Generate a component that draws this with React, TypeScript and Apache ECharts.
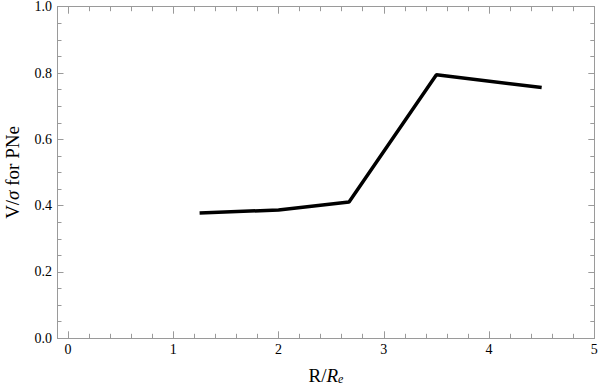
import React, { useEffect, useRef } from "react";
import * as echarts from "echarts";

const xValues = [1.25, 2.0, 2.67, 3.5, 4.5];
const yValues = [0.378, 0.387, 0.411, 0.795, 0.756];
const xMajorTicks = [0, 1, 2, 3, 4, 5];
const xMinorTicks = [0.2, 0.4, 0.6, 0.8, 1.2, 1.4, 1.6, 1.8, 2.2, 2.4, 2.6, 2.8, 3.2, 3.4, 3.6, 3.8, 4.2, 4.4, 4.6, 4.8];
const yMajorTicks = [0, 0.2, 0.4, 0.6, 0.8, 1.0];
const xMin = -0.1;
const xMax = 5;
const yMin = 0;
const yMax = 1;
const yStep = 0.2;

const FONT = "Liberation Serif";
const FRAME = "#9a9a9a";

export default function App() {
  const ref = useRef<HTMLDivElement>(null);
  useEffect(() => {
    if (!ref.current) return;
    const chart = echarts.init(ref.current, undefined, { renderer: "svg" });
    const baseX = (position: "bottom" | "top", ticks: number[], len: number, name?: boolean) => ({
      type: "value",
      position,
      min: xMin,
      max: xMax,
      axisLine: { show: true, onZero: false, lineStyle: { color: FRAME, width: 1 } },
      axisTick: { show: true, inside: true, length: len, customValues: ticks, lineStyle: { color: FRAME, width: 1 } },
      axisLabel: { show: false },
      splitLine: { show: false },
      ...(name
        ? {
            name: "{n|R/}{i|R}{s|e}",
            nameLocation: "middle",
            nameGap: 27,
            nameTextStyle: {
              rich: {
                n: { fontFamily: FONT, fontSize: 19, color: "#000" },
                i: { fontFamily: FONT, fontSize: 19, fontStyle: "italic", color: "#000" },
                s: { fontFamily: FONT, fontSize: 12, fontStyle: "italic", color: "#000", verticalAlign: "bottom", padding: [8, 0, 0, 0] },
              },
            },
          }
        : {}),
    });
    const baseY = (position: "left" | "right", name?: boolean) => ({
      type: "value",
      position,
      min: yMin,
      max: yMax,
      interval: yStep,
      axisLine: { show: true, onZero: false, lineStyle: { color: FRAME, width: 1 } },
      axisTick: { show: true, inside: true, length: 6, lineStyle: { color: FRAME, width: 1 } },
      minorTick: { show: true, splitNumber: 4, length: 4, lineStyle: { color: FRAME, width: 1 } },
      axisLabel: { show: false },
      splitLine: { show: false },
      minorSplitLine: { show: false },
      ...(name
        ? {
            name: "{n|V/}{i|σ}{n| for PNe}",
            nameLocation: "middle",
            nameGap: 36,
            nameRotate: 90,
            nameTextStyle: {
              rich: {
                n: { fontFamily: FONT, fontSize: 19, color: "#000" },
                i: { fontFamily: FONT, fontSize: 19, fontStyle: "italic", color: "#000" },
              },
            },
          }
        : {}),
    });
    chart.setOption({
      animation: false,
      backgroundColor: "#fff",
      textStyle: { fontFamily: FONT },
      grid: { left: 57.5, right: 5.7, top: 6.7, bottom: 49.7, containLabel: false, outerBoundsMode: "none" },
      xAxis: [
        baseX("bottom", xMajorTicks, 7, true),
        baseX("bottom", xMinorTicks, 4.5),
        baseX("top", xMajorTicks, 7),
        baseX("top", xMinorTicks, 4.5),
      ],
      yAxis: [baseY("left", true), baseY("right")],
      series: [
        {
          type: "line",
          xAxisIndex: 0,
          yAxisIndex: 0,
          data: xValues.map((x, i) => [x, yValues[i]]),
          showSymbol: false,
          symbol: "none",
          lineStyle: { color: "#000", width: 3.5 },
        },
      ],
    });
    const rich = { t: { fontFamily: FONT, fontSize: 14, color: "#000" } };
    const labels: any[] = [];
    xMajorTicks.forEach((v) => {
      const [px, py] = chart.convertToPixel({ xAxisIndex: 0, yAxisIndex: 0 }, [v, yMin]) as number[];
      labels.push({
        type: "text",
        x: px,
        y: py + 4.5,
        silent: true,
        style: { text: `{t|${v}}`, rich, fontFamily: FONT, fontSize: 14, fill: "#000", align: "center", verticalAlign: "top" },
      });
    });
    yMajorTicks.forEach((v) => {
      const [px, py] = chart.convertToPixel({ xAxisIndex: 0, yAxisIndex: 0 }, [xMin, v]) as number[];
      labels.push({
        type: "text",
        x: px - 5.5,
        y: py,
        silent: true,
        style: { text: `{t|${v.toFixed(1)}}`, rich, fontFamily: FONT, fontSize: 14, fill: "#000", align: "right", verticalAlign: "middle" },
      });
    });
    chart.setOption({ graphic: labels });
    return () => chart.dispose();
  }, []);
  return <div ref={ref} style={{ width: 600, height: 388, position: "absolute", left: 0, top: 0 }} />;
}
